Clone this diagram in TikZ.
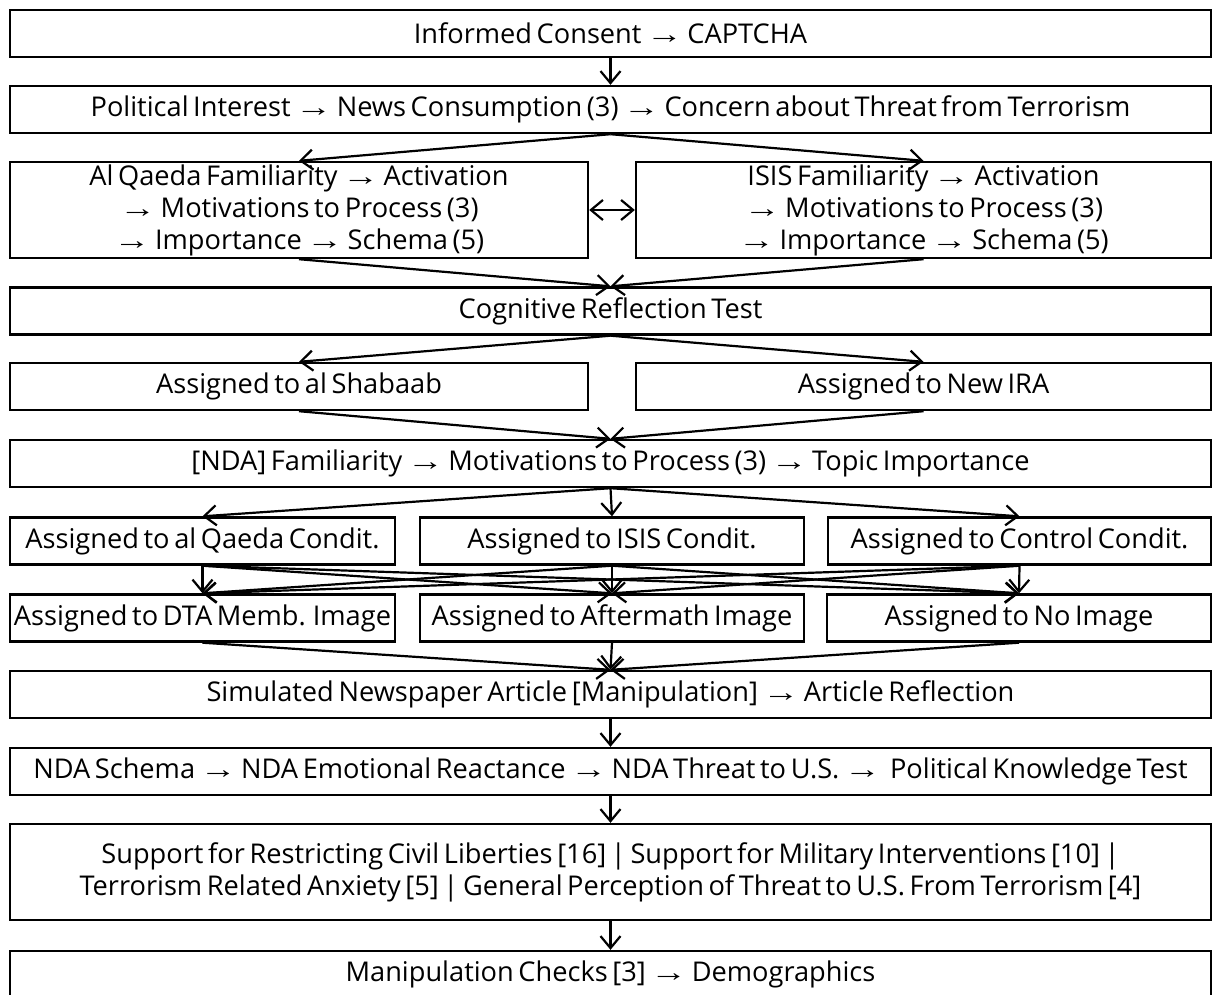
\documentclass[tikz,border=0pt]{standalone}
\usepackage{fontspec}
\usepackage{graphicx}
\setmainfont{Open Sans}
\newfontfamily\arrowfont{Liberation Sans}
\usetikzlibrary{arrows.meta}
\newcommand\ra{\scalebox{1.35}[1]{\arrowfont\char"2192}}
\newcommand\boxfont{\fontsize{27.2}{32}\selectfont\spaceskip=0.17em plus 0.05em minus 0.02em\relax}

\tikzset{
  x=1pt, y=-1pt,
  box/.style={draw, line width=2.4pt, inner sep=0pt, minimum height=47pt,
    align=center, font=\boxfont},
  tallbox/.style={box, minimum height=96pt},
  flow/.style={line width=2.2pt, -{Straight Barb[length=12pt,width=20pt]}},
  twoway/.style={line width=2.2pt, {Straight Barb[length=12pt,width=20pt]}-{Straight Barb[length=12pt,width=20pt]}},
}

\begin{document}
\begin{tikzpicture}
\useasboundingbox (0,0) rectangle (1212,994);

% full-width stages
\node[box, minimum width=1201pt] (consent) at (610.5,33.5) {Informed Consent \ra{} CAPTCHA};
\node[box, minimum width=1201pt] (interest) at (610.5,109.5) {Political Interest \ra{} News Consumption (3) \ra{} Concern about Threat from Terrorism};

% familiarity branches
\node[tallbox, minimum width=578pt] (aq) at (299,210) {Al Qaeda Familiarity \ra{} Activation\\ \ra{} Motivations to Process (3)\\ \ra{} Importance \ra{} Schema (5)};
\node[tallbox, minimum width=575pt] (isis) at (923.5,210) {ISIS Familiarity \ra{} Activation\\ \ra{} Motivations to Process (3)\\ \ra{} Importance \ra{} Schema (5)};

\node[box, minimum width=1201pt] (crt) at (610.5,311) {Cognitive Reflection Test};

% group assignment
\node[box, minimum width=578pt] (shab) at (299,386.5) {Assigned to al Shabaab};
\node[box, minimum width=575pt] (ira) at (923.5,386.5) {Assigned to New IRA};

\node[box, minimum width=1201pt] (nda) at (610.5,463.5) {[NDA] Familiarity \ra{} Motivations to Process (3) \ra{} Topic Importance};

% condition assignment
\node[box, minimum width=385pt] (c1) at (202.5,541) {\makebox[0pt]{Assigned to al Qaeda Condit.}};
\node[box, minimum width=384pt] (c2) at (612,541) {Assigned to ISIS Condit.};
\node[box, minimum width=383pt] (c3) at (1019.5,541) {\makebox[0pt]{Assigned to Control Condit.}};

% image assignment
\node[box, minimum width=385pt] (i1) at (202.5,618) {\makebox[0pt]{Assigned to DTA Memb. Image}};
\node[box, minimum width=384pt] (i2) at (612,618) {\makebox[0pt]{Assigned to Aftermath Image}};
\node[box, minimum width=384pt] (i3) at (1019,618) {Assigned to No Image};

% remaining stages
\node[box, minimum width=1201pt] (article) at (610.5,694.5) {Simulated Newspaper Article [Manipulation] \ra{} Article Reflection};
\node[box, minimum width=1201pt] (schema) at (610.5,771.5) {NDA Schema \ra{} NDA Emotional Reactance \ra{} NDA Threat to U.S. \ra{}\ \ Political Knowledge Test};
\node[tallbox, minimum width=1201pt] (outcomes) at (610.5,872) {Support for Restricting Civil Liberties [16] | Support for Military Interventions [10] |\\ Terrorism Related Anxiety [5] | General Perception of Threat to U.S. From Terrorism [4]};
\node[box, minimum width=1201pt] (checks) at (610.5,974.5) {Manipulation Checks [3] \ra{} Demographics};

% connectors
\draw[flow] (consent.south) -- (interest.north);
\draw[flow] (interest.south) -- (aq.north);
\draw[flow] (interest.south) -- (isis.north);
\draw[twoway] (aq.east) -- (isis.west);
\draw[flow] (aq.south) -- (crt.north);
\draw[flow] (isis.south) -- (crt.north);
\draw[flow] (crt.south) -- (shab.north);
\draw[flow] (crt.south) -- (ira.north);
\draw[flow] (shab.south) -- (nda.north);
\draw[flow] (ira.south) -- (nda.north);
\foreach \c in {c1,c2,c3} \draw[flow] (nda.south) -- (\c.north);
\foreach \c in {c1,c2,c3} \foreach \i in {i1,i2,i3} \draw[flow] (\c.south) -- (\i.north);
\foreach \i in {i1,i2,i3} \draw[flow] (\i.south) -- (article.north);
\draw[flow] (article.south) -- (schema.north);
\draw[flow] (schema.south) -- (outcomes.north);
\draw[flow] (outcomes.south) -- (checks.north);
\end{tikzpicture}
\end{document}
